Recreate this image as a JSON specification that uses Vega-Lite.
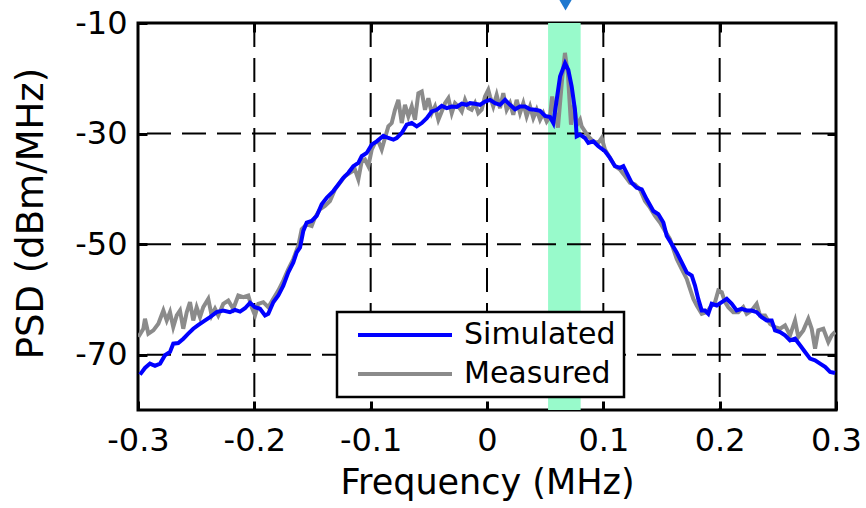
{
  "$schema": "https://vega.github.io/schema/vega-lite/v6.json",
  "width": 698,
  "height": 387,
  "autosize": {"type": "none"},
  "padding": {"left": 138, "top": 23, "right": 30, "bottom": 98},
  "background": "white",
  "config": {
    "view": {"stroke": "black", "strokeWidth": 3},
    "font": "DejaVu Sans",
    "axis": {
      "labelFont": "DejaVu Sans", "titleFont": "DejaVu Sans",
      "labelColor": "black", "titleColor": "black", "titleFontWeight": "normal",
      "domain": false, "grid": false, "tickColor": "black", "tickWidth": 3, "tickSize": -9,
      "labelFontSize": 32, "titleFontSize": 35
    },
    "legend": {"strokeWidth": 2.5}
  },
  "datasets": {
    "band": [{"f0": 0.0525, "f1": 0.0805}],
    "xgrid": [{"gx": -0.2}, {"gx": -0.1}, {"gx": 0}, {"gx": 0.1}, {"gx": 0.2}],
    "ygrid": [{"gy": -30}, {"gy": -50}, {"gy": -70}],
    "marker": [{"f": 0.0675, "psd": -6.4}],
    "sim": [
      {"f": -0.2983, "psd": -73.6}, {"f": -0.294, "psd": -72.4}, {"f": -0.2897, "psd": -71.6}, {"f": -0.2854, "psd": -72.0},
      {"f": -0.281, "psd": -71.6}, {"f": -0.2768, "psd": -70.1}, {"f": -0.2725, "psd": -69.5}, {"f": -0.2697, "psd": -68.0},
      {"f": -0.2654, "psd": -67.9}, {"f": -0.261, "psd": -67.1}, {"f": -0.2568, "psd": -66.2}, {"f": -0.2525, "psd": -65.3},
      {"f": -0.248, "psd": -64.6}, {"f": -0.2439, "psd": -64.0}, {"f": -0.2381, "psd": -63.2}, {"f": -0.2324, "psd": -62.3},
      {"f": -0.2267, "psd": -62.0}, {"f": -0.221, "psd": -62.3}, {"f": -0.2166, "psd": -61.9}, {"f": -0.2123, "psd": -62.2},
      {"f": -0.208, "psd": -61.6}, {"f": -0.2037, "psd": -60.6}, {"f": -0.1995, "psd": -61.4}, {"f": -0.1951, "psd": -61.7},
      {"f": -0.1908, "psd": -62.9}, {"f": -0.188, "psd": -62.6}, {"f": -0.1837, "psd": -60.5}, {"f": -0.1794, "psd": -59.3},
      {"f": -0.1751, "psd": -57.5}, {"f": -0.1708, "psd": -55.1}, {"f": -0.1665, "psd": -53.3}, {"f": -0.1636, "psd": -51.5},
      {"f": -0.1607, "psd": -50.6}, {"f": -0.1579, "psd": -47.6}, {"f": -0.155, "psd": -46.1}, {"f": -0.1507, "psd": -45.8},
      {"f": -0.1464, "psd": -44.9}, {"f": -0.1421, "psd": -42.8}, {"f": -0.1378, "psd": -41.6}, {"f": -0.1321, "psd": -40.4},
      {"f": -0.1278, "psd": -39.2}, {"f": -0.1235, "psd": -38.0}, {"f": -0.1192, "psd": -37.1}, {"f": -0.1149, "psd": -35.9},
      {"f": -0.1106, "psd": -35.3}, {"f": -0.1077, "psd": -34.1}, {"f": -0.1034, "psd": -33.5}, {"f": -0.0991, "psd": -32.0},
      {"f": -0.0948, "psd": -31.4}, {"f": -0.0891, "psd": -30.4}, {"f": -0.0848, "psd": -30.8}, {"f": -0.0805, "psd": -31.1},
      {"f": -0.0776, "psd": -30.8}, {"f": -0.0733, "psd": -29.9}, {"f": -0.069, "psd": -28.4}, {"f": -0.0647, "psd": -28.1},
      {"f": -0.0604, "psd": -28.7}, {"f": -0.0561, "psd": -28.1}, {"f": -0.0518, "psd": -27.2}, {"f": -0.0475, "psd": -26.0},
      {"f": -0.0432, "psd": -25.7}, {"f": -0.0389, "psd": -25.0}, {"f": -0.0346, "psd": -25.4}, {"f": -0.0303, "psd": -25.1},
      {"f": -0.026, "psd": -25.2}, {"f": -0.0217, "psd": -24.6}, {"f": -0.0175, "psd": -24.8}, {"f": -0.0146, "psd": -24.5},
      {"f": -0.0103, "psd": -24.6}, {"f": -0.006, "psd": -24.8}, {"f": -0.0017, "psd": -24.2}, {"f": 0.0026, "psd": -23.9},
      {"f": 0.0069, "psd": -24.5}, {"f": 0.0112, "psd": -24.8}, {"f": 0.0155, "psd": -23.9}, {"f": 0.0198, "psd": -24.8},
      {"f": 0.0241, "psd": -25.6}, {"f": 0.0284, "psd": -25.1}, {"f": 0.0327, "psd": -25.1}, {"f": 0.037, "psd": -25.6},
      {"f": 0.0413, "psd": -25.7}, {"f": 0.0456, "psd": -25.9}, {"f": 0.0499, "psd": -26.8}, {"f": 0.0542, "psd": -27.0},
      {"f": 0.057, "psd": -28.1}, {"f": 0.0599, "psd": -23.9}, {"f": 0.0628, "psd": -19.7}, {"f": 0.0671, "psd": -17.3},
      {"f": 0.0699, "psd": -18.5}, {"f": 0.0728, "psd": -21.5}, {"f": 0.0756, "psd": -25.7}, {"f": 0.0771, "psd": -30.5},
      {"f": 0.0799, "psd": -30.2}, {"f": 0.0842, "psd": -30.8}, {"f": 0.0871, "psd": -31.7}, {"f": 0.0914, "psd": -31.4},
      {"f": 0.0957, "psd": -32.3}, {"f": 0.1014, "psd": -33.2}, {"f": 0.1057, "psd": -34.4}, {"f": 0.11, "psd": -35.9},
      {"f": 0.1143, "psd": -36.2}, {"f": 0.1172, "psd": -35.9}, {"f": 0.1201, "psd": -37.1}, {"f": 0.1244, "psd": -38.9},
      {"f": 0.1287, "psd": -39.8}, {"f": 0.133, "psd": -40.1}, {"f": 0.1373, "psd": -41.9}, {"f": 0.143, "psd": -44.0},
      {"f": 0.1473, "psd": -44.6}, {"f": 0.1516, "psd": -46.1}, {"f": 0.1545, "psd": -48.5}, {"f": 0.1588, "psd": -50.0},
      {"f": 0.1631, "psd": -51.5}, {"f": 0.1674, "psd": -53.3}, {"f": 0.1717, "psd": -55.1}, {"f": 0.176, "psd": -55.7},
      {"f": 0.1788, "psd": -57.5}, {"f": 0.1816, "psd": -59.9}, {"f": 0.1846, "psd": -62.0}, {"f": 0.1874, "psd": -62.0},
      {"f": 0.1902, "psd": -62.6}, {"f": 0.1931, "psd": -60.8}, {"f": 0.1975, "psd": -61.1}, {"f": 0.2018, "psd": -60.5},
      {"f": 0.2061, "psd": -59.9}, {"f": 0.2104, "psd": -60.8}, {"f": 0.2146, "psd": -62.0}, {"f": 0.2189, "psd": -61.7},
      {"f": 0.2232, "psd": -62.0}, {"f": 0.2275, "psd": -62.0}, {"f": 0.2318, "psd": -62.3}, {"f": 0.2361, "psd": -63.2},
      {"f": 0.2404, "psd": -63.8}, {"f": 0.2447, "psd": -63.8}, {"f": 0.2476, "psd": -65.6}, {"f": 0.2519, "psd": -65.9},
      {"f": 0.2562, "psd": -66.5}, {"f": 0.2605, "psd": -67.4}, {"f": 0.2648, "psd": -67.1}, {"f": 0.2691, "psd": -68.3},
      {"f": 0.2734, "psd": -69.5}, {"f": 0.2777, "psd": -70.7}, {"f": 0.282, "psd": -71.0}, {"f": 0.2863, "psd": -71.6},
      {"f": 0.2906, "psd": -72.2}, {"f": 0.2949, "psd": -73.1}, {"f": 0.2992, "psd": -73.3}
    ],
    "meas": [
      {"f": -0.2997, "psd": -66.8}, {"f": -0.2954, "psd": -65.3}, {"f": -0.294, "psd": -63.5}, {"f": -0.2911, "psd": -66.2},
      {"f": -0.2868, "psd": -65.6}, {"f": -0.2825, "psd": -64.4}, {"f": -0.2782, "psd": -62.0}, {"f": -0.2753, "psd": -63.8},
      {"f": -0.2725, "psd": -62.3}, {"f": -0.2697, "psd": -65.0}, {"f": -0.2667, "psd": -62.9}, {"f": -0.2639, "psd": -62.0},
      {"f": -0.2611, "psd": -65.3}, {"f": -0.2581, "psd": -62.3}, {"f": -0.2553, "psd": -60.5}, {"f": -0.2525, "psd": -63.8},
      {"f": -0.2496, "psd": -61.4}, {"f": -0.2467, "psd": -63.2}, {"f": -0.2439, "psd": -61.4}, {"f": -0.2396, "psd": -59.9},
      {"f": -0.2367, "psd": -62.9}, {"f": -0.2338, "psd": -61.7}, {"f": -0.231, "psd": -62.9}, {"f": -0.2267, "psd": -60.8},
      {"f": -0.2224, "psd": -60.2}, {"f": -0.2181, "psd": -61.7}, {"f": -0.2138, "psd": -59.3}, {"f": -0.2095, "psd": -59.6},
      {"f": -0.2052, "psd": -59.3}, {"f": -0.2023, "psd": -61.4}, {"f": -0.1994, "psd": -62.9}, {"f": -0.1966, "psd": -60.8},
      {"f": -0.1923, "psd": -60.5}, {"f": -0.188, "psd": -61.4}, {"f": -0.1837, "psd": -59.9}, {"f": -0.1794, "psd": -58.4},
      {"f": -0.1751, "psd": -56.6}, {"f": -0.1708, "psd": -54.5}, {"f": -0.1665, "psd": -52.7}, {"f": -0.1622, "psd": -50.3},
      {"f": -0.1593, "psd": -47.3}, {"f": -0.155, "psd": -46.4}, {"f": -0.1507, "psd": -46.7}, {"f": -0.1479, "psd": -45.2},
      {"f": -0.1436, "psd": -43.7}, {"f": -0.1393, "psd": -43.1}, {"f": -0.135, "psd": -42.2}, {"f": -0.1307, "psd": -40.1},
      {"f": -0.1264, "psd": -38.9}, {"f": -0.1221, "psd": -37.7}, {"f": -0.1178, "psd": -37.1}, {"f": -0.1135, "psd": -36.5},
      {"f": -0.1106, "psd": -38.3}, {"f": -0.1077, "psd": -35.0}, {"f": -0.1049, "psd": -34.7}, {"f": -0.102, "psd": -35.9},
      {"f": -0.0991, "psd": -32.9}, {"f": -0.0963, "psd": -31.7}, {"f": -0.0934, "psd": -31.4}, {"f": -0.0905, "psd": -32.9},
      {"f": -0.0877, "psd": -30.8}, {"f": -0.0848, "psd": -28.7}, {"f": -0.0819, "psd": -28.1}, {"f": -0.0791, "psd": -25.7},
      {"f": -0.0762, "psd": -23.9}, {"f": -0.0733, "psd": -28.1}, {"f": -0.0705, "psd": -24.8}, {"f": -0.0676, "psd": -26.9},
      {"f": -0.0647, "psd": -25.1}, {"f": -0.0619, "psd": -27.5}, {"f": -0.059, "psd": -22.7}, {"f": -0.0561, "psd": -22.4},
      {"f": -0.0533, "psd": -25.7}, {"f": -0.0504, "psd": -23.6}, {"f": -0.0475, "psd": -26.3}, {"f": -0.0447, "psd": -25.1},
      {"f": -0.0418, "psd": -27.5}, {"f": -0.0389, "psd": -26.0}, {"f": -0.0361, "psd": -24.5}, {"f": -0.0332, "psd": -23.6},
      {"f": -0.0303, "psd": -26.3}, {"f": -0.0275, "psd": -24.5}, {"f": -0.0246, "psd": -25.1}, {"f": -0.0217, "psd": -26.0},
      {"f": -0.0189, "psd": -23.9}, {"f": -0.016, "psd": -25.4}, {"f": -0.0132, "psd": -25.7}, {"f": -0.0103, "psd": -24.5},
      {"f": -0.0075, "psd": -26.3}, {"f": -0.0046, "psd": -25.7}, {"f": -0.0017, "psd": -23.3}, {"f": 0.0011, "psd": -22.1},
      {"f": 0.0026, "psd": -23.3}, {"f": 0.0054, "psd": -25.1}, {"f": 0.0083, "psd": -23.0}, {"f": 0.0112, "psd": -25.4},
      {"f": 0.014, "psd": -22.7}, {"f": 0.0169, "psd": -25.7}, {"f": 0.0198, "psd": -24.5}, {"f": 0.0226, "psd": -26.6},
      {"f": 0.0255, "psd": -23.9}, {"f": 0.0284, "psd": -26.3}, {"f": 0.0312, "psd": -24.5}, {"f": 0.0341, "psd": -26.9},
      {"f": 0.037, "psd": -25.1}, {"f": 0.0398, "psd": -27.2}, {"f": 0.0427, "psd": -25.7}, {"f": 0.0456, "psd": -27.5},
      {"f": 0.0484, "psd": -26.3}, {"f": 0.0513, "psd": -27.8}, {"f": 0.0542, "psd": -26.9}, {"f": 0.056, "psd": -23.3},
      {"f": 0.058, "psd": -25.7}, {"f": 0.061, "psd": -28.9}, {"f": 0.0645, "psd": -20.3}, {"f": 0.067, "psd": -15.4},
      {"f": 0.0696, "psd": -19.4}, {"f": 0.0722, "psd": -28.4}, {"f": 0.0748, "psd": -24.8}, {"f": 0.0774, "psd": -28.4},
      {"f": 0.08, "psd": -27.5}, {"f": 0.0814, "psd": -28.7}, {"f": 0.0842, "psd": -29.6}, {"f": 0.0871, "psd": -30.5},
      {"f": 0.0914, "psd": -31.4}, {"f": 0.0957, "psd": -31.7}, {"f": 0.0986, "psd": -30.8}, {"f": 0.1014, "psd": -32.9},
      {"f": 0.1057, "psd": -34.4}, {"f": 0.11, "psd": -35.9}, {"f": 0.1143, "psd": -36.5}, {"f": 0.1186, "psd": -37.7},
      {"f": 0.1229, "psd": -38.9}, {"f": 0.1272, "psd": -39.2}, {"f": 0.1315, "psd": -40.1}, {"f": 0.1358, "psd": -42.2},
      {"f": 0.1401, "psd": -43.4}, {"f": 0.1444, "psd": -44.9}, {"f": 0.1487, "psd": -46.1}, {"f": 0.153, "psd": -47.6},
      {"f": 0.1573, "psd": -49.1}, {"f": 0.1631, "psd": -52.7}, {"f": 0.1674, "psd": -54.5}, {"f": 0.1717, "psd": -56.3},
      {"f": 0.1745, "psd": -58.1}, {"f": 0.1774, "psd": -59.9}, {"f": 0.1803, "psd": -61.1}, {"f": 0.1846, "psd": -62.6},
      {"f": 0.1889, "psd": -62.3}, {"f": 0.1931, "psd": -61.1}, {"f": 0.196, "psd": -60.5}, {"f": 0.1988, "psd": -58.4},
      {"f": 0.2018, "psd": -58.7}, {"f": 0.2046, "psd": -60.5}, {"f": 0.2074, "psd": -61.4}, {"f": 0.2117, "psd": -62.3},
      {"f": 0.216, "psd": -62.3}, {"f": 0.2203, "psd": -61.4}, {"f": 0.2232, "psd": -62.6}, {"f": 0.2275, "psd": -62.0},
      {"f": 0.2318, "psd": -60.8}, {"f": 0.2347, "psd": -62.9}, {"f": 0.239, "psd": -62.9}, {"f": 0.2433, "psd": -64.4},
      {"f": 0.2476, "psd": -65.0}, {"f": 0.2519, "psd": -65.3}, {"f": 0.2562, "psd": -64.7}, {"f": 0.2605, "psd": -66.5},
      {"f": 0.2648, "psd": -63.8}, {"f": 0.2676, "psd": -66.8}, {"f": 0.2719, "psd": -65.6}, {"f": 0.2762, "psd": -63.5},
      {"f": 0.2791, "psd": -65.3}, {"f": 0.282, "psd": -68.9}, {"f": 0.2848, "psd": -65.6}, {"f": 0.2891, "psd": -65.3},
      {"f": 0.2934, "psd": -67.7}, {"f": 0.2963, "psd": -66.5}, {"f": 0.2992, "psd": -65.9}
    ]
  },
  "layer": [
    {
      "data": {"name": "band"},
      "mark": {"type": "rect", "color": "#98FACB"},
      "encoding": {
        "x": {"field": "f0", "type": "quantitative", "scale": {"domain": [-0.3, 0.3], "nice": false, "zero": false}, "axis": null},
        "x2": {"field": "f1"}
      }
    },
    {
      "data": {"name": "xgrid"},
      "mark": {"type": "rule", "color": "black", "strokeWidth": 2, "strokeDash": [24, 11]},
      "encoding": {
        "x": {"field": "gx", "type": "quantitative", "axis": null}
      }
    },
    {
      "data": {"name": "ygrid"},
      "mark": {"type": "rule", "color": "black", "strokeWidth": 2, "strokeDash": [24, 11]},
      "encoding": {
        "y": {"field": "gy", "type": "quantitative", "scale": {"domain": [-80, -10], "nice": false, "zero": false}, "axis": null}
      }
    },
    {
      "data": {"name": "meas"},
      "mark": {"type": "line", "strokeWidth": 4, "clip": true},
      "encoding": {
        "x": {
          "field": "f", "type": "quantitative",
          "axis": {
            "orient": "bottom", "values": [-0.3, -0.2, -0.1, 0, 0.1, 0.2, 0.3],
            "title": "Frequency (MHz)",
            "labelExpr": "(datum.value < 0 ? '-' : '') + format(abs(datum.value), '~g')",
            "labelPadding": 49, "labelBaseline": "alphabetic", "labelFlush": false, "labelOverlap": false, "labelBound": false,
            "titleY": 83, "titleBaseline": "alphabetic"
          }
        },
        "y": {
          "field": "psd", "type": "quantitative",
          "axis": {
            "orient": "left", "values": [-70, -50, -30, -10],
            "title": "PSD (dBm/MHz)",
            "labelExpr": "(datum.value < 0 ? '-' : '') + format(abs(datum.value), 'd')",
            "labelPadding": 20, "labelFlush": false, "labelOverlap": false, "labelBound": false,
            "titleX": -96, "titleY": 190, "titleBaseline": "alphabetic", "titleFontSize": 37
          }
        },
        "color": {
          "datum": "Measured", "type": "nominal",
          "scale": {"domain": ["Simulated", "Measured"], "range": ["#0000FF", "#8B8B8B"]},
          "legend": {
            "title": null, "orient": "none", "legendX": 199, "legendY": 289,
            "fillColor": "white", "strokeColor": "black", "padding": 8, "cornerRadius": 0,
            "symbolType": "stroke", "symbolSize": 8836, "symbolStrokeWidth": 4, "symbolOffset": 11,
            "labelFont": "DejaVu Sans", "labelFontSize": 30, "labelColor": "black", "labelOffset": 10, "labelLimit": 0,
            "clipHeight": 30, "rowPadding": 9, "zindex": 5
          }
        }
      }
    },
    {
      "data": {"name": "sim"},
      "mark": {"type": "line", "strokeWidth": 4, "clip": true},
      "encoding": {
        "x": {
          "field": "f", "type": "quantitative",
          "axis": {"orient": "top", "values": [-0.2, -0.1, 0, 0.1, 0.2], "labels": false, "title": null}
        },
        "y": {
          "field": "psd", "type": "quantitative",
          "axis": {"orient": "right", "values": [-70, -50, -30], "labels": false, "title": null}
        },
        "color": {"datum": "Simulated", "type": "nominal"}
      }
    },
    {
      "data": {"name": "marker"},
      "mark": {"type": "point", "shape": "triangle-down", "filled": true, "size": 300, "color": "#1F78CF", "opacity": 1, "clip": false},
      "encoding": {
        "x": {"field": "f", "type": "quantitative", "axis": null},
        "y": {"field": "psd", "type": "quantitative", "axis": null}
      }
    }
  ],
  "resolve": {"axis": {"x": "independent", "y": "independent"}}
}
